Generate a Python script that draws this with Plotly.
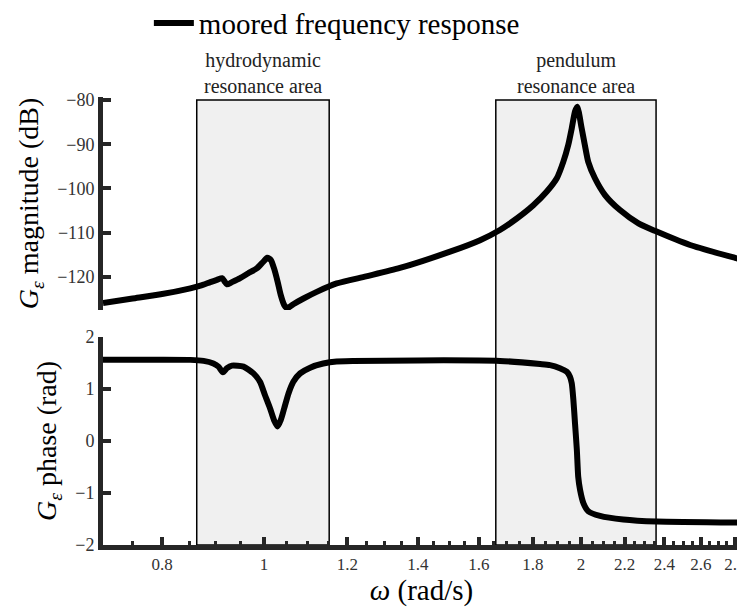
import math
import plotly.graph_objects as go

# ---- data ----
omega_mag = [0.703, 0.75, 0.80, 0.851, 0.870, 0.889, 0.902, 0.912, 0.917, 0.922,
             0.932, 0.949, 0.966, 0.984, 0.998, 1.007, 1.015, 1.022, 1.030, 1.037,
             1.045, 1.052, 1.066, 1.090, 1.122, 1.172, 1.250, 1.346, 1.502, 1.604,
             1.675, 1.738, 1.802, 1.856, 1.897, 1.924, 1.945, 1.960, 1.974, 1.984,
             2.003, 2.017, 2.032, 2.062, 2.108, 2.178, 2.268, 2.351, 2.539, 2.801,
             2.832]
mag_db = [-125.9, -124.9, -123.9, -122.6, -122.0, -121.2, -120.7, -120.3, -121.0, -121.7,
          -121.2, -120.3, -119.2, -118.1, -116.6, -115.7, -116.2, -118.1, -121.1, -124.1,
          -126.4, -127.1, -126.2, -124.9, -123.4, -121.5, -119.9, -118.0, -114.3, -111.7,
          -109.4, -106.8, -103.8, -100.7, -97.7, -94.0, -90.2, -86.4, -82.6, -81.5,
          -86.4, -90.2, -94.0, -97.7, -101.5, -104.9, -107.9, -109.6, -112.8, -115.7,
          -116.0]

omega_phase = [0.703, 0.851, 0.876, 0.895, 0.905, 0.914, 0.922, 0.932, 0.956, 0.977,
               0.991, 1.002, 1.013, 1.022, 1.030, 1.037, 1.045, 1.055, 1.066, 1.082,
               1.106, 1.138, 1.172, 1.40, 1.675, 1.829, 1.869, 1.910, 1.939, 1.952,
               1.960, 1.967, 1.974, 1.982, 1.988, 1.996, 2.011, 2.032, 2.085, 2.194,
               2.360, 2.832]
phase_rad = [1.56, 1.56, 1.54, 1.49, 1.43, 1.32, 1.40, 1.45, 1.43, 1.30,
             1.14, 0.88, 0.63, 0.40, 0.28, 0.40, 0.63, 0.92, 1.14, 1.30,
             1.41, 1.49, 1.53, 1.55, 1.54, 1.48, 1.46, 1.40, 1.33, 1.24,
             1.11, 0.79, 0.34, -0.17, -0.69, -0.94, -1.20, -1.35, -1.44, -1.51,
             -1.55, -1.57]

x_tick_vals = [0.8, 1, 1.2, 1.4, 1.6, 1.8, 2, 2.2, 2.4, 2.6, 2.8]
x_tick_text = ["0.8", "1", "1.2", "1.4", "1.6", "1.8", "2", "2.2", "2.4", "2.6", "2.8"]
mag_ticks = [-120, -110, -100, -90, -80]
phase_ticks = [-2, -1, 0, 1, 2]

hydro_area = [0.863, 1.153]
pendulum_area = [1.660, 2.357]
area_labels = ["hydrodynamic<br>resonance area", "pendulum<br>resonance area"]

x_range = [0.703, 2.832]
legend_name = "moored frequency response"

# minor ticks every 0.05 (layout only)
minor_vals = [round(0.70 + 0.05 * i, 2) for i in range(43)]
minor_vals = [v for v in minor_vals if all(abs(v - t) > 1e-6 for t in x_tick_vals)]

FONT = "Liberation Serif"
AX = "#262626"

fig = go.Figure()
fig.add_trace(go.Scatter(
    x=omega_mag, y=mag_db, xaxis="x2", yaxis="y2", mode="lines",
    line=dict(color="black", width=6, shape="spline", smoothing=0.6),
    name=legend_name, showlegend=True))
fig.add_trace(go.Scatter(
    x=omega_phase, y=phase_rad, xaxis="x", yaxis="y", mode="lines",
    line=dict(color="black", width=6, shape="spline", smoothing=0.6),
    name=legend_name, showlegend=False))

shapes = []
for area in (hydro_area, pendulum_area):
    shapes.append(dict(type="rect", xref="x", yref="paper",
                       x0=area[0], x1=area[1], y0=0, y1=0.9933,
                       fillcolor="#f0f0f0", line=dict(color="black", width=1.5),
                       layer="below"))

annotations = []
for area, label in zip((hydro_area, pendulum_area), area_labels):
    xc = (math.log10(area[0]) + math.log10(area[1])) / 2
    annotations.append(dict(x=xc, xref="x", y=0.996, yref="paper",
                            xanchor="center", yanchor="bottom", showarrow=False,
                            text=label, font=dict(family=FONT, size=20, color="#222")))

common_y = dict(showline=True, linewidth=5, linecolor=AX, ticks="inside",
                ticklen=8, tickwidth=4, tickcolor=AX, showgrid=False, zeroline=False,
                tickfont=dict(family=FONT, size=18, color="#333"))

fig.update_layout(
    width=745, height=612,
    margin=dict(l=95, r=13, t=89, b=75, autoexpand=False),
    paper_bgcolor="white", plot_bgcolor="rgba(0,0,0,0)",
    font=dict(family=FONT, color="black"),
    shapes=shapes, annotations=annotations,
    showlegend=True,
    legend=dict(x=0.072, y=1.165, xanchor="left", yanchor="middle",
                font=dict(family=FONT, size=29, color="black"),
                bgcolor="rgba(0,0,0,0)", itemwidth=40),
    xaxis=dict(type="log", range=[math.log10(x_range[0]), math.log10(x_range[1])],
               domain=[0, 1], anchor="y",
               showline=True, linewidth=5, linecolor=AX, ticks="inside",
               ticklen=8, tickwidth=4, tickcolor=AX, showgrid=False, zeroline=False,
               tickmode="array", tickvals=x_tick_vals, ticktext=x_tick_text,
               tickfont=dict(family=FONT, size=17, color="#333"),
               minor=dict(tickmode="array", tickvals=minor_vals, ticks="inside",
                          ticklen=4, tickwidth=3, tickcolor=AX, showgrid=False),
               title=dict(text="<i>ω</i> (rad/s)", font=dict(family=FONT, size=29),
                          standoff=8)),
    xaxis2=dict(type="log", range=[math.log10(x_range[0]), math.log10(x_range[1])],
                domain=[0, 1], anchor="y2", matches="x",
                showline=False, showticklabels=False, ticks="", showgrid=False,
                zeroline=False),
    yaxis=dict(domain=[0, 0.4643], range=[-2, 2], anchor="x",
               tickmode="array", tickvals=phase_ticks,
               title=dict(text="<i>G</i><sub><i>ε</i></sub> phase (rad)",
                          font=dict(family=FONT, size=28), standoff=12),
               **common_y),
    yaxis2=dict(domain=[0.5246, 1], range=[-127.5, -79.32], anchor="x2",
                tickmode="array", tickvals=mag_ticks,
                title=dict(text="<i>G</i><sub><i>ε</i></sub> magnitude (dB)",
                           font=dict(family=FONT, size=28), standoff=12),
                **common_y),
)

fig.write_html("out.html")
